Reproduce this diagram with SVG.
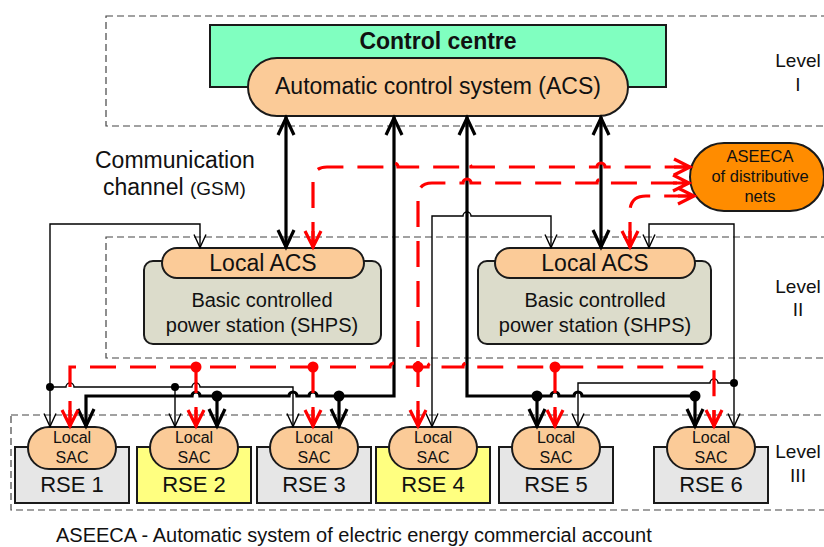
<svg xmlns="http://www.w3.org/2000/svg" width="824" height="547" viewBox="0 0 824 547">
<defs>
<style>
.box{fill:none;stroke:#444;stroke-width:1.2;stroke-dasharray:7 4}
.nd{stroke:#1a1a1a;stroke-width:2}
.t{font-family:"Liberation Sans",Arial,sans-serif;fill:#111;text-anchor:middle}
.thick{fill:none;stroke:#000;stroke-width:3.2}
.thin{fill:none;stroke:#000;stroke-width:1.4}
.red{fill:none;stroke:#f00;stroke-width:3.2;stroke-dasharray:26 14}
.peach{fill:#fbcb98}
.rg{fill:#e6e6e6}
.ry{fill:#ffff80}
</style>
<marker id="aT" markerUnits="userSpaceOnUse" viewBox="-4 -4 26 24" refX="18" refY="8" markerWidth="26" markerHeight="24" orient="auto-start-reverse" overflow="visible"><path d="M0,0 L17,8 L0,16" fill="none" stroke="#000" stroke-width="3.2"/></marker>
<marker id="aN" markerUnits="userSpaceOnUse" viewBox="-4 -4 22 20" refX="13.5" refY="6" markerWidth="22" markerHeight="20" orient="auto-start-reverse" overflow="visible"><path d="M0,0 L13,6 L0,12" fill="none" stroke="#000" stroke-width="1.4"/></marker>
<marker id="aR" markerUnits="userSpaceOnUse" viewBox="-4 -4 26 24" refX="17" refY="8" markerWidth="26" markerHeight="24" orient="auto-start-reverse" overflow="visible"><path d="M0,0 L16,8 L0,16 M0,8 L16,8" fill="none" stroke="#f00" stroke-width="3.2"/></marker>
</defs>
<rect width="824" height="547" fill="#fff"/>

<g id="levels">
<rect class="box" x="106" y="16" width="760" height="110"/>
<rect class="box" x="106" y="237" width="760" height="121"/>
<rect class="box" x="11" y="415" width="855" height="95"/>
<text class="t" x="798" y="67" font-size="19">Level</text>
<text class="t" x="798" y="91" font-size="19">I</text>
<text class="t" x="798" y="293" font-size="19">Level</text>
<text class="t" x="798" y="316" font-size="19">II</text>
<text class="t" x="798" y="458" font-size="19">Level</text>
<text class="t" x="798" y="482" font-size="19">III</text>
</g>

<g id="control-centre">
<rect class="nd" x="210" y="25" width="456" height="62" fill="#80ffc0"/>
<text class="t" x="438" y="49" font-size="23" font-weight="bold">Control centre</text>
<rect class="nd peach" x="248" y="58" width="380" height="58" rx="29"/>
<text class="t" x="438" y="94" font-size="23">Automatic control system (ACS)</text>
</g>

<g id="comm-label">
<text x="95" y="168" font-size="23" font-family="Liberation Sans, Arial, sans-serif" fill="#111">Communication</text>
<text x="103" y="195" font-size="23" font-family="Liberation Sans, Arial, sans-serif" fill="#111">channel <tspan font-size="19">(GSM)</tspan></text>
</g>

<g id="aseeca">
<rect class="nd" x="690" y="143" width="134" height="68" rx="34" fill="#ff8c00"/>
<text class="t" x="760" y="162" font-size="16.5">ASEECA</text>
<text class="t" x="760" y="182" font-size="16.5">of distributive</text>
<text class="t" x="760" y="202" font-size="16.5">nets</text>
</g>

<g id="shps-left">
<rect class="nd" x="144" y="261" width="237" height="83" rx="9" fill="#dcdccb"/>
<rect class="nd peach" x="162" y="248" width="202" height="30" rx="15"/>
<text class="t" x="263" y="271" font-size="23">Local ACS</text>
<text class="t" x="262" y="307" font-size="20">Basic controlled</text>
<text class="t" x="262" y="332" font-size="20">power station (SHPS)</text>
</g>

<g id="shps-right">
<rect class="nd" x="478" y="261" width="233" height="83" rx="9" fill="#dcdccb"/>
<rect class="nd peach" x="495" y="248" width="200" height="30" rx="15"/>
<text class="t" x="595" y="271" font-size="23">Local ACS</text>
<text class="t" x="595" y="307" font-size="20">Basic controlled</text>
<text class="t" x="595" y="332" font-size="20">power station (SHPS)</text>
</g>

<g id="rse1">
<rect class="nd rg" x="15" y="447" width="114" height="56"/>
<rect class="nd peach" x="28" y="427" width="88" height="42" rx="21"/>
<text class="t" x="72" y="443" font-size="16">Local</text>
<text class="t" x="72" y="463" font-size="16">SAC</text>
<text class="t" x="72" y="492" font-size="22">RSE 1</text>
</g>
<g id="rse2">
<rect class="nd ry" x="137" y="447" width="114" height="56"/>
<rect class="nd peach" x="150" y="427" width="88" height="42" rx="21"/>
<text class="t" x="194" y="443" font-size="16">Local</text>
<text class="t" x="194" y="463" font-size="16">SAC</text>
<text class="t" x="194" y="492" font-size="22">RSE 2</text>
</g>
<g id="rse3">
<rect class="nd rg" x="257" y="447" width="114" height="56"/>
<rect class="nd peach" x="270" y="427" width="88" height="42" rx="21"/>
<text class="t" x="314" y="443" font-size="16">Local</text>
<text class="t" x="314" y="463" font-size="16">SAC</text>
<text class="t" x="314" y="492" font-size="22">RSE 3</text>
</g>
<g id="rse4">
<rect class="nd ry" x="376" y="447" width="114" height="56"/>
<rect class="nd peach" x="389" y="427" width="88" height="42" rx="21"/>
<text class="t" x="433" y="443" font-size="16">Local</text>
<text class="t" x="433" y="463" font-size="16">SAC</text>
<text class="t" x="433" y="492" font-size="22">RSE 4</text>
</g>
<g id="rse5">
<rect class="nd rg" x="499" y="447" width="114" height="56"/>
<rect class="nd peach" x="512" y="427" width="88" height="42" rx="21"/>
<text class="t" x="556" y="443" font-size="16">Local</text>
<text class="t" x="556" y="463" font-size="16">SAC</text>
<text class="t" x="556" y="492" font-size="22">RSE 5</text>
</g>
<g id="rse6">
<rect class="nd rg" x="654" y="447" width="114" height="56"/>
<rect class="nd peach" x="667" y="427" width="88" height="42" rx="21"/>
<text class="t" x="711" y="443" font-size="16">Local</text>
<text class="t" x="711" y="463" font-size="16">SAC</text>
<text class="t" x="711" y="492" font-size="22">RSE 6</text>
</g>

<g id="connectors">
<!-- thick GSM links -->
<path class="thick" d="M286,117 V248" marker-start="url(#aT)" marker-end="url(#aT)"/>
<path class="thick" d="M601,117 V248" marker-start="url(#aT)" marker-end="url(#aT)"/>
<path class="thick" d="M394,117 V396 H317 A4,4 0 0 0 309,396 H297 A4,4 0 0 0 289,396 H200 A4,4 0 0 0 192,396 H86 V427" marker-start="url(#aT)" marker-end="url(#aT)"/>
<path class="thick" d="M217,396 V427" marker-end="url(#aT)"/>
<path class="thick" d="M339,396 V427" marker-end="url(#aT)"/>
<path class="thick" d="M467,117 V396 H551 A4,4 0 0 1 559,396 H574 A4,4 0 0 1 582,396 H695 V427" marker-start="url(#aT)" marker-end="url(#aT)"/>
<path class="thick" d="M537,396 V427" marker-end="url(#aT)"/>
<!-- thin local links -->
<path class="thin" d="M200,248 V224 H50 V427" marker-start="url(#aN)" marker-end="url(#aN)"/>
<path class="thin" d="M50,387 H66 A4,4 0 0 1 74,387 H192 A4,4 0 0 1 200,387 H293 V427" marker-end="url(#aN)"/>
<path class="thin" d="M175,387 V427" marker-end="url(#aN)"/>
<path class="thin" d="M649,248 V224 H734 V427" marker-start="url(#aN)" marker-end="url(#aN)"/>
<path class="thin" d="M734,383 H718 A4,4 0 0 0 710,383 H578 V427" marker-end="url(#aN)"/>
<path class="thin" d="M551,248 V216 H471 A4,4 0 0 0 463,216 H432 V427" marker-start="url(#aN)" marker-end="url(#aN)"/>
<!-- red ASEECA links -->
<path class="red" d="M313,248 V181 Q313,167 327,167 H390 A4,4 0 0 1 398,167 H463 A4,4 0 0 1 471,167 H597 A4,4 0 0 1 605,167 H691" marker-start="url(#aR)" marker-end="url(#aR)"/>
<path class="red" d="M418,427 V197 Q418,183 432,183 H463 A4,4 0 0 1 471,183 H597 A4,4 0 0 1 605,183 H690" marker-start="url(#aR)" marker-end="url(#aR)"/>
<path class="red" d="M630,248 V212 Q630,196 646,196 H695" marker-start="url(#aR)" marker-end="url(#aR)"/>
<path class="red" d="M70,427 V367 H390 A4,4 0 0 1 398,367 H428 A4,4 0 0 1 436,367 H463 A4,4 0 0 1 471,367 H714 V427" marker-start="url(#aR)" marker-end="url(#aR)"/>
<path class="red" d="M196,367 V427" marker-end="url(#aR)"/>
<path class="red" d="M313,367 V427" marker-end="url(#aR)"/>
<path class="red" d="M555,367 V427" marker-end="url(#aR)"/>
<!-- junction dots -->
<g fill="#000">
<circle cx="50" cy="387" r="4"/><circle cx="175" cy="387" r="4"/><circle cx="734" cy="383" r="4"/>
<circle cx="217" cy="396" r="5.5"/><circle cx="339" cy="396" r="5.5"/><circle cx="537" cy="396" r="5.5"/><circle cx="695" cy="396" r="5.5"/>
</g>
<g fill="#f00">
<circle cx="196" cy="367" r="5.5"/><circle cx="313" cy="367" r="5.5"/><circle cx="418" cy="367" r="5.5"/><circle cx="555" cy="367" r="5.5"/>
</g>
</g>

<g id="legend">
<text x="56" y="542" font-size="20" font-family="Liberation Sans, Arial, sans-serif" fill="#111">ASEECA - Automatic system of electric energy commercial account</text>
</g>
</svg>
